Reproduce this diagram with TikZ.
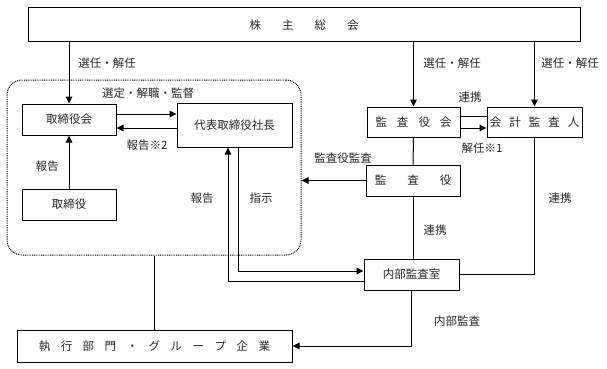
\documentclass[tikz,border=0pt]{standalone}
\usepackage{fontspec}
\newfontfamily\jpfam{Noto Sans CJK JP}
\usetikzlibrary{arrows.meta}
\newcommand\jpfnt{\jpfam\fontsize{11.5}{13}\selectfont}
\begin{document}
\begin{tikzpicture}[x=1pt,y=-1pt,
  every node/.style={font=\jpfnt,text=black!85,inner sep=0pt},
  box/.style={draw=black,line width=1pt,fill=white},
  lbl/.style={},
  conn/.style={line width=1pt},
  arr/.style={line width=1pt,-{Triangle[length=7pt,width=6.5pt]}}]
\useasboundingbox (0,0) rectangle (607,369);
% group
\node[draw=black,dash pattern=on 0.9pt off 0.9pt,line width=1pt,rounded corners=15pt,minimum width=294pt,minimum height=175pt] (grp) at (154,167.5) {};
% boxes
\node[box,minimum width=552pt,minimum height=34pt] (soukai) at (304,25) {株\hspace{21pt}主\hspace{21pt}総\hspace{21pt}会};
\node[box,minimum width=94pt,minimum height=31pt] (torikai) at (69,119.5) {取締役会};
\node[box,minimum width=115pt,minimum height=44pt] (daihyo) at (234.5,125) {代表取締役社長};
\node[box,minimum width=94pt,minimum height=31pt] (torishimari) at (69,204.5) {取締役};
\node[box,minimum width=93pt,minimum height=30pt] (kansakai) at (413.5,122) {監\hspace{10pt}査\hspace{10pt}役\hspace{10pt}会};
\node[box,minimum width=95pt,minimum height=30pt] (kaikei) at (534.5,122) {会\hspace{8pt}計\hspace{8pt}監\hspace{8pt}査\hspace{8pt}人};
\node[box,minimum width=94pt,minimum height=31pt] (kansayaku) at (413,180.5) {監\hspace{21pt}査\hspace{21pt}役};
\node[box,minimum width=95pt,minimum height=31pt] (naibu) at (411.5,274.5) {内部監査室};
\node[box,minimum width=275pt,minimum height=32pt] (shikko) at (154.5,346) {執\hspace{10.5pt}行\hspace{10.5pt}部\hspace{10.5pt}門\hspace{10.5pt}・\hspace{10.5pt}グ\hspace{10.5pt}ル\hspace{10.5pt}ー\hspace{10.5pt}プ\hspace{10.5pt}企\hspace{10.5pt}業};
% connectors from soukai
\draw[arr] (soukai.south -| torikai.north) -- (torikai.north);
\draw[arr] (soukai.south -| kansakai.north) -- (kansakai.north);
\draw[arr] (soukai.south -| kaikei.north) -- (kaikei.north);
% torikai <-> daihyo
\coordinate (a1) at ([yshift=5.5pt]torikai.east);
\coordinate (a2) at ([yshift=-8.5pt]torikai.east);
\draw[arr] (a1) -- (a1 -| daihyo.west);
\draw[arr] (a2 -| daihyo.west) -- (a2);
% torishimari -> torikai
\draw[arr] (torishimari.north) -- (torikai.south);
% kansakai <-> kaikei
\coordinate (b1) at ([yshift=6pt]kansakai.east);
\coordinate (b2) at ([yshift=-6pt]kansakai.east);
\draw[conn] (b1) -- (b1 -| kaikei.west);
\draw[arr] (b2) -- (b2 -| kaikei.west);
% kansakai - kansayaku - naibu
\draw[conn] (kansakai.south) -- (kansayaku.north);
\draw[conn] (kansayaku.south) -- (kansayaku.south |- naibu.north);
% kansayaku -> group
\draw[arr] (kansayaku.west) -- (kansayaku.west -| grp.east);
% daihyo <-> naibu
\coordinate (c1) at ([xshift=3.5pt]daihyo.south);
\coordinate (c1e) at ([yshift=3.5pt]naibu.west);
\draw[arr] (c1) |- (c1e);
\coordinate (c2) at ([xshift=-6.5pt]daihyo.south);
\coordinate (c2e) at ([yshift=-6.5pt]naibu.west);
\draw[arr] (c2e) -| (c2);
% naibu - kaikei
\draw[conn] (naibu.east) -| (kaikei.south);
% naibu -> shikko
\draw[arr] (naibu.south) |- (shikko.east);
% group - shikko
\draw[conn] (grp.south) -- (grp.south |- shikko.north);
% labels
\node[lbl] at (107,63) {選任・解任};
\node[lbl] at (452,63) {選任・解任};
\node[lbl] at (570,63) {選任・解任};
\node[lbl] at (148,93) {選定・解職・監督};
\node[lbl] at (147,145) {報告※2};
\node[lbl] at (47,166) {報告};
\node[lbl] at (202,198) {報告};
\node[lbl] at (261,198) {指示};
\node[lbl] at (470,97) {連携};
\node[lbl] at (482,148) {解任※1};
\node[lbl] at (343,158) {監査役監査};
\node[lbl] at (435,230) {連携};
\node[lbl] at (560,198) {連携};
\node[lbl] at (457,321) {内部監査};
\end{tikzpicture}
\end{document}
